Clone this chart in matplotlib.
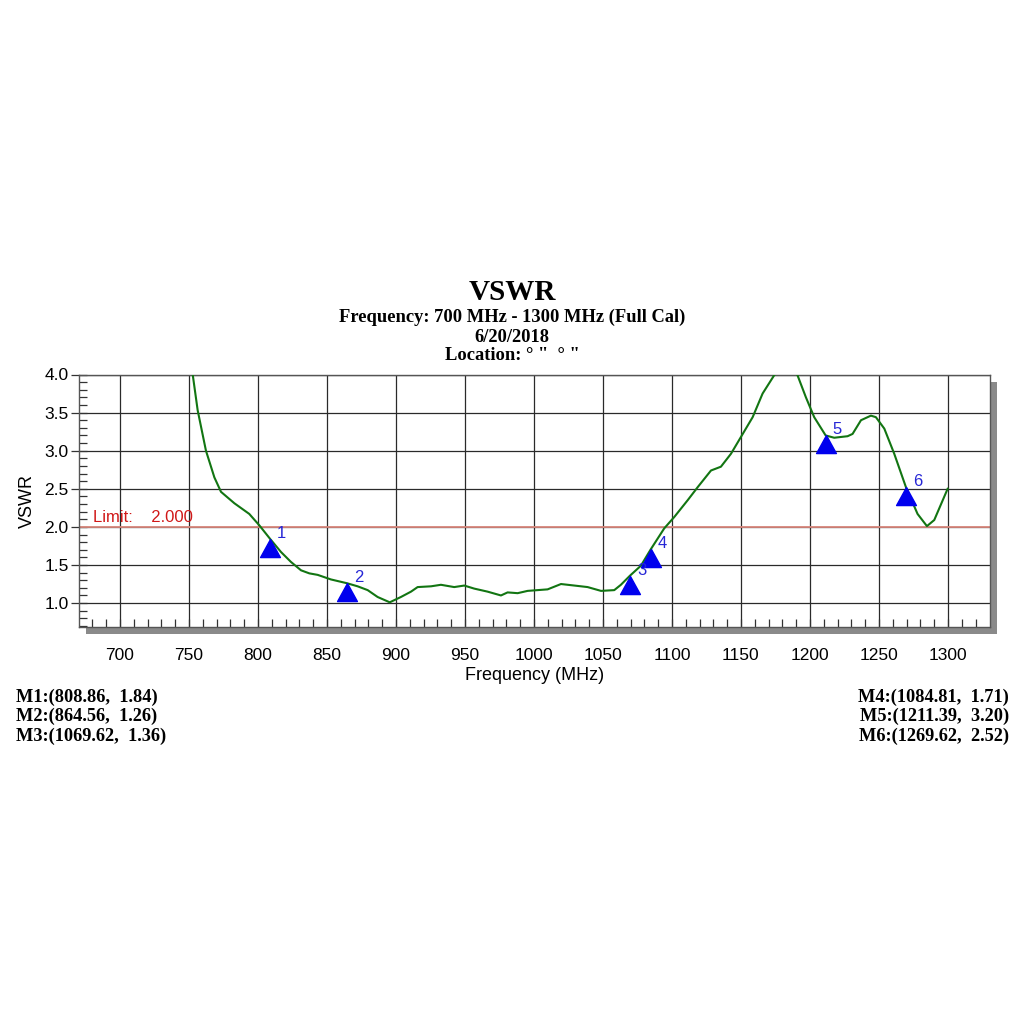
import matplotlib
matplotlib.use("Agg")
import matplotlib.pyplot as plt
from matplotlib.patches import Rectangle
from matplotlib.path import Path
from matplotlib.ticker import MultipleLocator, FormatStrFormatter

# Curve (MHz, VSWR)
freq = [745, 749, 752.7, 756.3, 762.3, 768.4, 773.2, 782.9, 793.7, 801, 808.9,
        816.7, 823.9, 831.2, 837.2, 843.3, 852.9, 864.6, 872.2, 879.5, 886.7,
        895.5, 903.6, 910.9, 915.7, 925.4, 932.6, 942.2, 949.5, 956.7, 966.4,
        976.1, 980.9, 988.2, 995.4, 1002.7, 1009.9, 1019.6, 1029.3, 1038.9,
        1048.6, 1058.2, 1063.0, 1069.6, 1077.5, 1084.8, 1094.4, 1101.7, 1111.4,
        1118.6, 1128.3, 1135.5, 1142.8, 1150, 1158.5, 1165.7, 1174.1, 1180,
        1186, 1191, 1197.1, 1203.1, 1211.4, 1217.6, 1227.3, 1230.9, 1237,
        1244.2, 1247.8, 1253.9, 1261.1, 1269.6, 1278, 1284.8, 1290.1, 1299.8]
vswr = [4.6, 4.3, 4.0, 3.53, 3.0, 2.65, 2.46, 2.31, 2.17, 2.02, 1.84,
        1.67, 1.54, 1.43, 1.39, 1.37, 1.31, 1.26, 1.22, 1.17, 1.08,
        1.01, 1.08, 1.15, 1.21, 1.22, 1.24, 1.21, 1.23, 1.19, 1.15,
        1.10, 1.14, 1.13, 1.16, 1.17, 1.18, 1.25, 1.23, 1.21,
        1.16, 1.17, 1.24, 1.36, 1.49, 1.71, 1.98, 2.13, 2.35,
        2.52, 2.74, 2.79, 2.96, 3.18, 3.44, 3.75, 3.99, 4.12,
        4.10, 3.99, 3.70, 3.44, 3.20, 3.17, 3.19, 3.22, 3.40,
        3.46, 3.44, 3.29, 2.96, 2.52, 2.17, 2.01, 2.09, 2.50]

# Markers
mk_names = ["1", "2", "3", "4", "5", "6"]
mk_freq = [808.86, 864.56, 1069.62, 1084.81, 1211.39, 1269.62]
mk_vswr = [1.84, 1.26, 1.36, 1.71, 3.20, 2.52]

limit = 2.0

W = 1024
fig = plt.figure(figsize=(10.24, 10.24), dpi=100)
fig.patch.set_facecolor("white")

x0, y0 = 79 / W, 1 - 627 / W
w, h = 911 / W, 252.5 / W
# drop shadow behind the plot frame
fig.patches.append(Rectangle((x0 + 7 / W, y0 - 7 / W), w, h, transform=fig.transFigure,
                             facecolor="#8a8a8a", edgecolor="none", zorder=-1))
ax = fig.add_axes([x0, y0, w, h])
ax.set_facecolor("white")

ax.set_xlim(670.3, 1330.5)
ax.set_ylim(0.686, 4.0)

sans = "Liberation Sans"
ax.plot(freq, vswr, color="#127512", lw=1.5, zorder=3, clip_on=True)
ax.axhline(limit, color="#d8877c", lw=1.3, zorder=2)
ax.text(680.5, 2.025, "Limit:    2.000", color="#d01818", fontsize=12,
        family=sans, va="bottom", ha="left")

# triangle marker with its apex on the point
tri = Path([(0, 0), (-0.55, -1.0), (0.55, -1.0), (0, 0)],
           [Path.MOVETO, Path.LINETO, Path.LINETO, Path.CLOSEPOLY])
ax.plot(mk_freq, mk_vswr, linestyle="none", marker=tri, markersize=26,
        color="#0000ee", zorder=4, clip_on=False)
for n, fx, vy in zip(mk_names, mk_freq, mk_vswr):
    ax.annotate(n, (fx, vy), xytext=(7, -2), textcoords="offset pixels",
                color="#2626d6", fontsize=12, family=sans,
                ha="left", va="bottom", zorder=5)

# grid
ax.set_xticks(range(700, 1301, 50))
ax.set_yticks([1.0, 1.5, 2.0, 2.5, 3.0, 3.5, 4.0])
ax.yaxis.set_major_formatter(FormatStrFormatter("%.1f"))
ax.grid(True, which="major", color="#2a2a2a", lw=0.9, zorder=1)
ax.set_axisbelow(True)

# bottom minor ticks every 10 MHz (680..1320)
ax.set_xticks(range(680, 1321, 10), minor=True)
ax.yaxis.set_minor_locator(MultipleLocator(0.1))
ax.tick_params(axis="x", which="both", direction="in", length=6, width=0.9,
               color="#333333", pad=15, labelsize=12.5)
ax.tick_params(axis="y", which="major", direction="inout", length=11, width=0.9,
               color="#333333", pad=2, labelsize=12.5)
ax.tick_params(axis="y", which="minor", direction="in", length=6, width=0.9,
               color="#333333")
for lab in ax.get_xticklabels() + ax.get_yticklabels():
    lab.set_family(sans)

for s in ax.spines.values():
    s.set_color("#555555")
    s.set_linewidth(1.0)

ax.set_xlabel("Frequency (MHz)", fontsize=13, family=sans, labelpad=3)
ax.set_ylabel("VSWR", fontsize=13, family=sans, labelpad=6)

# titles
serif = "Liberation Serif"
fig.text(0.5, 1 - 293 / W, "VSWR", ha="center", va="center", fontsize=21,
         fontweight="bold", family=serif)
fig.text(0.5, 1 - 317 / W, "Frequency: 700 MHz - 1300 MHz (Full Cal)", ha="center",
         va="center", fontsize=13.3, fontweight="bold", family=serif)
fig.text(0.5, 1 - 337 / W, "6/20/2018", ha="center", va="center", fontsize=13.3,
         fontweight="bold", family=serif)
fig.text(0.5, 1 - 356 / W, "Location: \u00b0 \"  \u00b0 \"", ha="center", va="center",
         fontsize=13.3, fontweight="bold", family=serif)

# marker readouts
left_rows = [f"M{i + 1}:({mk_freq[i]:.2f},  {mk_vswr[i]:.2f})" for i in range(3)]
right_rows = [f"M{i + 1}:({mk_freq[i]:.2f},  {mk_vswr[i]:.2f})" for i in range(3, 6)]
for k, t in enumerate(left_rows):
    fig.text(16 / W, 1 - (697 + 19.5 * k) / W, t, ha="left", va="center",
             fontsize=13.2, fontweight="bold", family=serif)
for k, t in enumerate(right_rows):
    fig.text(1009 / W, 1 - (697 + 19.5 * k) / W, t, ha="right", va="center",
             fontsize=13.2, fontweight="bold", family=serif)

fig.savefig("out.png", dpi=100)
